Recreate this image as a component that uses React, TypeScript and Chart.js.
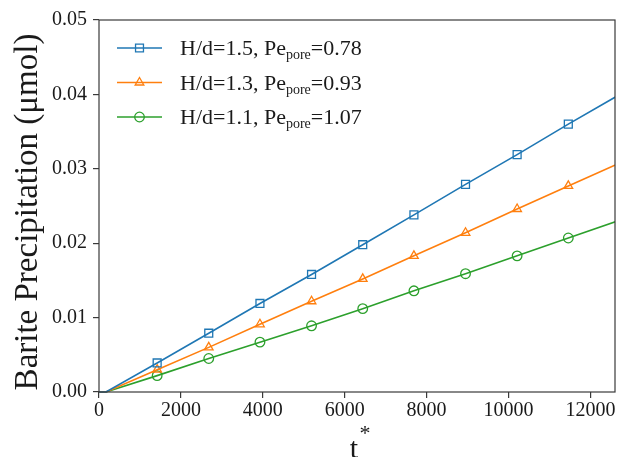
import React, { useEffect, useRef } from "react";
import { Chart, registerables } from "chart.js";

Chart.register(...registerables);

// t* values of the sampled points
const TSTAR = [0, 170, 1420, 2680, 3930, 5190, 6440, 7690, 8950, 10210, 11460, 12720];
// Barite precipitation (µmol)
const HD15 = [0, 0, 0.0039, 0.0079, 0.0119, 0.0158, 0.0198, 0.0238, 0.0279, 0.0319, 0.036, 0.04];
const HD13 = [0, 0, 0.003, 0.006, 0.0091, 0.0122, 0.0152, 0.0183, 0.0214, 0.0246, 0.0277, 0.0308];
const HD11 = [0, 0, 0.0022, 0.0045, 0.0067, 0.0089, 0.0112, 0.0136, 0.0159, 0.0183, 0.0207, 0.0231];

const X_TICKS = [0, 2000, 4000, 6000, 8000, 10000, 12000];
const Y_TICKS = [0, 0.01, 0.02, 0.03, 0.04, 0.05];

const SERIES = [
  { hd: "1.5", pe: "0.78", values: HD15, color: "#1f77b4", marker: "rect", radius: 5.6 },
  { hd: "1.3", pe: "0.93", values: HD13, color: "#ff7f0e", marker: "triangle", radius: 5 },
  { hd: "1.1", pe: "1.07", values: HD11, color: "#2ca02c", marker: "circle", radius: 4.8 },
];

const FONT = "'Liberation Serif', 'Times New Roman', serif";
const TEXT = "#1a1a1a";
const SPINE = "#3a3a3a";

function drawMarker(ctx: CanvasRenderingContext2D, style: string, r: number, x: number, y: number) {
  ctx.beginPath();
  if (style === "rect") {
    const s = Math.SQRT1_2 * r;
    ctx.rect(x - s, y - s, 2 * s, 2 * s);
  } else if (style === "triangle") {
    const h = r * 1.5;
    ctx.moveTo(x, y - r);
    ctx.lineTo(x + r * 0.866, y + r * 0.5);
    ctx.lineTo(x - r * 0.866, y + r * 0.5);
    ctx.closePath();
    void h;
  } else {
    ctx.arc(x, y, r, 0, Math.PI * 2);
  }
  ctx.stroke();
}

const decorPlugin = {
  id: "decor",
  afterDraw(chart: any) {
    const ctx = chart.ctx as CanvasRenderingContext2D;
    const a = chart.chartArea;
    ctx.save();
    // spines
    ctx.strokeStyle = SPINE;
    ctx.lineWidth = 1.2;
    ctx.strokeRect(a.left, a.top, a.right - a.left, a.bottom - a.top);

    // y title
    ctx.fillStyle = TEXT;
    ctx.save();
    ctx.translate(37, 212);
    ctx.rotate(-Math.PI / 2);
    ctx.font = `33px ${FONT}`;
    ctx.textAlign = "center";
    ctx.textBaseline = "alphabetic";
    ctx.fillText("Barite Precipitation (\u03bcmol)", 0, 0);
    ctx.restore();

    // x title t*
    ctx.font = `30px ${FONT}`;
    ctx.textAlign = "center";
    ctx.textBaseline = "alphabetic";
    ctx.fillText("t", 354, 458);
    ctx.font = `22px ${FONT}`;
    ctx.fillText("*", 365, 440);

    // legend
    const x0 = 117, x1 = 162, tx = 180;
    const rows = [48, 82.5, 117];
    SERIES.forEach((s, i) => {
      const y = rows[i];
      ctx.strokeStyle = s.color;
      ctx.lineWidth = 1.6;
      ctx.beginPath();
      ctx.moveTo(x0, y);
      ctx.lineTo(x1, y);
      ctx.stroke();
      ctx.lineWidth = 1.3;
      drawMarker(ctx, s.marker, s.radius, (x0 + x1) / 2, y);
      ctx.fillStyle = TEXT;
      ctx.textAlign = "left";
      ctx.textBaseline = "alphabetic";
      const by = y + 7;
      ctx.font = `22px ${FONT}`;
      const main = `H/d=${s.hd}, Pe`;
      ctx.fillText(main, tx, by);
      let cx = tx + ctx.measureText(main).width;
      ctx.font = `14px ${FONT}`;
      ctx.fillText("pore", cx, by + 4);
      cx += ctx.measureText("pore").width;
      ctx.font = `22px ${FONT}`;
      ctx.fillText(`=${s.pe}`, cx, by);
    });
    ctx.restore();
  },
};

export default function App() {
  const ref = useRef<HTMLCanvasElement>(null);
  useEffect(() => {
    if (!ref.current) return;
    const datasets = SERIES.map((s) => ({
      label: `H/d=${s.hd}`,
      data: TSTAR.map((t, i) => ({ x: t, y: s.values[i] })),
      borderColor: s.color,
      backgroundColor: "rgba(0,0,0,0)",
      borderWidth: 1.6,
      pointStyle: s.marker,
      pointRadius: TSTAR.map((_, i) => (i < 2 || i === TSTAR.length - 1 ? 0 : s.radius)),
      pointBorderWidth: 1.3,
      pointBorderColor: s.color,
      pointBackgroundColor: "rgba(0,0,0,0)",
      tension: 0,
      clip: { left: 5, top: 5, right: 0, bottom: 5 },
    }));
    const chart = new Chart(ref.current, {
      type: "line",
      data: { datasets },
      plugins: [decorPlugin],
      options: {
        animation: false,
        responsive: false,
        layout: { padding: { top: 20, right: 3, left: 0, bottom: 0 } },
        plugins: { legend: { display: false }, tooltip: { enabled: false } },
        scales: {
          x: {
            type: "linear",
            min: 0,
            max: 12600,
            afterBuildTicks: (axis: any) => {
              axis.ticks = X_TICKS.map((v) => ({ value: v }));
            },
            afterFit: (scale: any) => {
              scale.height = 65;
            },
            border: { display: false },
            grid: { display: true, drawOnChartArea: false, drawTicks: true, tickLength: 6, color: SPINE, lineWidth: 1.2 },
            ticks: {
              padding: 1,
              color: TEXT,
              font: { family: FONT, size: 20 },
              maxRotation: 0,
              callback: (v: any) => String(v),
            },
          },
          y: {
            type: "linear",
            min: 0,
            max: 0.05,
            afterBuildTicks: (axis: any) => {
              axis.ticks = Y_TICKS.map((v) => ({ value: v }));
            },
            afterFit: (scale: any) => {
              scale.width = 99;
            },
            border: { display: false },
            grid: { display: true, drawOnChartArea: false, drawTicks: true, tickLength: 6, color: SPINE, lineWidth: 1.2 },
            ticks: {
              padding: 6,
              color: TEXT,
              font: { family: FONT, size: 20 },
              callback: (v: any) => Number(v).toFixed(2),
            },
          },
        },
      },
    });
    return () => chart.destroy();
  }, []);
  return (
    <div style={{ position: "fixed", left: 0, top: 0, width: 618, height: 457, background: "#fff" }}>
      <canvas ref={ref} width={618} height={457} style={{ display: "block", width: 618, height: 457 }} />
    </div>
  );
}
